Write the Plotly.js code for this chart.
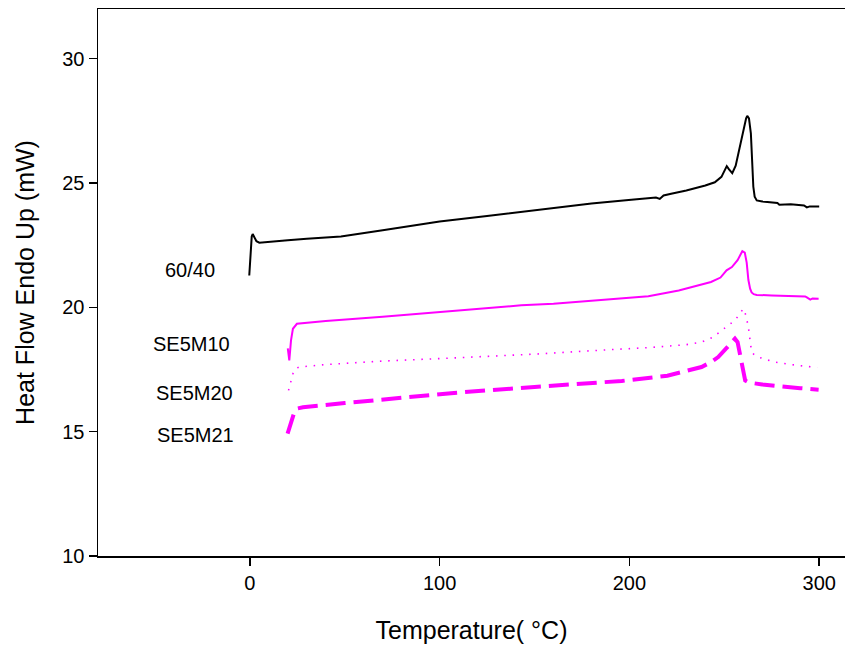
<!DOCTYPE html>
<html>
<head>
<meta charset="utf-8">
<script src="https://cdn.plot.ly/plotly-3.0.1.min.js"></script>
<style>
  html, body { margin: 0; padding: 0; background: #fff; }
  #chart { width: 845px; height: 651px; }
</style>
</head>
<body>
<div id="chart"></div>
<script>
// DSC heating curves: heat flow (mW) versus temperature (°C)

const temp6040 = [-0.3, 0.4, 1.0, 1.5, 2.3, 3.5, 5, 10, 20, 30, 48, 70, 100, 125, 148, 165, 180, 201, 214, 216, 218, 222, 230, 240, 245, 248.5, 250.2, 251.3, 252.5, 254.2, 256, 258, 260, 261.5, 262.1, 263, 264, 264.6, 265.3, 266, 267.1, 270, 275, 278, 279, 285, 292, 293.5, 295, 300];
const flow6040 = [21.28, 22.2, 22.85, 22.95, 22.82, 22.66, 22.6, 22.64, 22.7, 22.76, 22.85, 23.1, 23.45, 23.67, 23.88, 24.06, 24.18, 24.33, 24.42, 24.36, 24.5, 24.57, 24.7, 24.9, 25.03, 25.25, 25.5, 25.68, 25.55, 25.4, 25.7, 26.4, 27.2, 27.6, 27.7, 27.6, 27.0, 26.0, 24.85, 24.45, 24.3, 24.26, 24.22, 24.2, 24.13, 24.15, 24.1, 24.02, 24.06, 24.06];

const tempM10 = [20.0, 20.8, 21.7, 22.7, 24.8, 28.3, 40, 70, 100, 143, 160, 196, 210, 226, 235, 243, 248, 251.2, 254, 257, 259.5, 260.8, 261.8, 262.7, 263.6, 264.4, 265.5, 267.1, 275, 285, 292.6, 293.5, 295.3, 296.5, 299.7];
const flowM10 = [18.35, 17.87, 18.67, 19.14, 19.34, 19.37, 19.45, 19.62, 19.81, 20.08, 20.15, 20.35, 20.45, 20.68, 20.85, 21.02, 21.2, 21.49, 21.62, 21.9, 22.26, 22.2, 21.8, 21.1, 20.75, 20.6, 20.53, 20.5, 20.48, 20.46, 20.44, 20.4, 20.31, 20.36, 20.35];

const tempM20 = [20.4, 21.5, 22.8, 24, 26, 40, 70, 106, 150, 190, 210, 230, 238, 244, 248.6, 252, 255.6, 258, 260, 261.3, 262.7, 263.7, 264.4, 266, 268, 272, 276.6, 285, 299];
const flowM20 = [16.66, 17.0, 17.35, 17.53, 17.6, 17.7, 17.84, 17.96, 18.12, 18.3, 18.38, 18.5, 18.6, 18.8, 19.07, 19.28, 19.48, 19.72, 19.95, 19.7, 19.21, 18.6, 18.2, 18.08, 18.0, 17.9, 17.8, 17.7, 17.58];

const tempM21 = [19.9, 21, 22.2, 23.5, 24.8, 28, 50, 106, 150, 196, 220, 238, 243, 246.8, 251, 255.6, 257, 258.2, 259.2, 260.2, 261, 262.5, 264.4, 270, 276.6, 290, 299.7];
const flowM21 = [14.92, 15.2, 15.52, 15.8, 15.93, 15.98, 16.15, 16.55, 16.8, 17.04, 17.25, 17.6, 17.8, 18.0, 18.35, 18.74, 18.6, 18.14, 17.6, 17.2, 17.06, 17.0, 16.96, 16.9, 16.84, 16.75, 16.69];

const sampleNames = ['60/40', 'SE5M10', 'SE5M20', 'SE5M21'];
const labelX = [-31.6, -30.7, -29.4, -28.6];
const labelY = [21.49, 18.51, 16.54, 14.85];

const MAGENTA = '#ff00ff';
const FONT = 'Liberation Sans, Arial, sans-serif';

const traces = [
  { x: temp6040, y: flow6040, name: sampleNames[0], mode: 'lines',
    line: { color: '#000000', width: 2 } },
  { x: tempM10, y: flowM10, name: sampleNames[1], mode: 'lines',
    line: { color: MAGENTA, width: 2 } },
  { x: tempM20, y: flowM20, name: sampleNames[2], mode: 'lines',
    line: { color: MAGENTA, width: 1.6, dash: '1.5px,6.8px' } },
  { x: tempM21, y: flowM21, name: sampleNames[3], mode: 'lines',
    line: { color: MAGENTA, width: 4, dash: '20px,8px' } }
];

const annotations = sampleNames.map((s, i) => ({
  x: labelX[i], y: labelY[i], xref: 'x', yref: 'y',
  text: s, showarrow: false,
  font: { family: FONT, size: 20, color: '#000' },
  xanchor: 'center', yanchor: 'middle'
}));

const layout = {
  width: 845, height: 651,
  margin: { l: 98, r: 0, t: 9, b: 95 },
  paper_bgcolor: '#ffffff', plot_bgcolor: '#ffffff',
  showlegend: false,
  font: { family: FONT, color: '#000' },
  xaxis: {
    range: [-80, 313.6], autorange: false,
    tickvals: [0, 100, 200, 300],
    ticks: 'outside', ticklen: 8, tickwidth: 1.5, tickcolor: '#000',
    showline: true, linecolor: '#000', linewidth: 1.5, mirror: true,
    showgrid: false, zeroline: false,
    tickfont: { family: FONT, size: 20, color: '#000' },
    title: { text: 'Temperature( °C)', font: { family: FONT, size: 25, color: '#000' }, standoff: 29 }
  },
  yaxis: {
    range: [10, 32], autorange: false,
    tickvals: [10, 15, 20, 25, 30],
    ticks: 'outside', ticklen: 8, tickwidth: 1.5, tickcolor: '#000',
    showline: true, linecolor: '#000', linewidth: 1.5,
    showgrid: false, zeroline: false,
    tickfont: { family: FONT, size: 20, color: '#000' },
    title: { text: 'Heat Flow Endo Up (mW)', font: { family: FONT, size: 25, color: '#000' }, standoff: 20 }
  },
  annotations: annotations
};

Plotly.newPlot('chart', traces, layout, { displayModeBar: false, staticPlot: true });
</script>
</body>
</html>
